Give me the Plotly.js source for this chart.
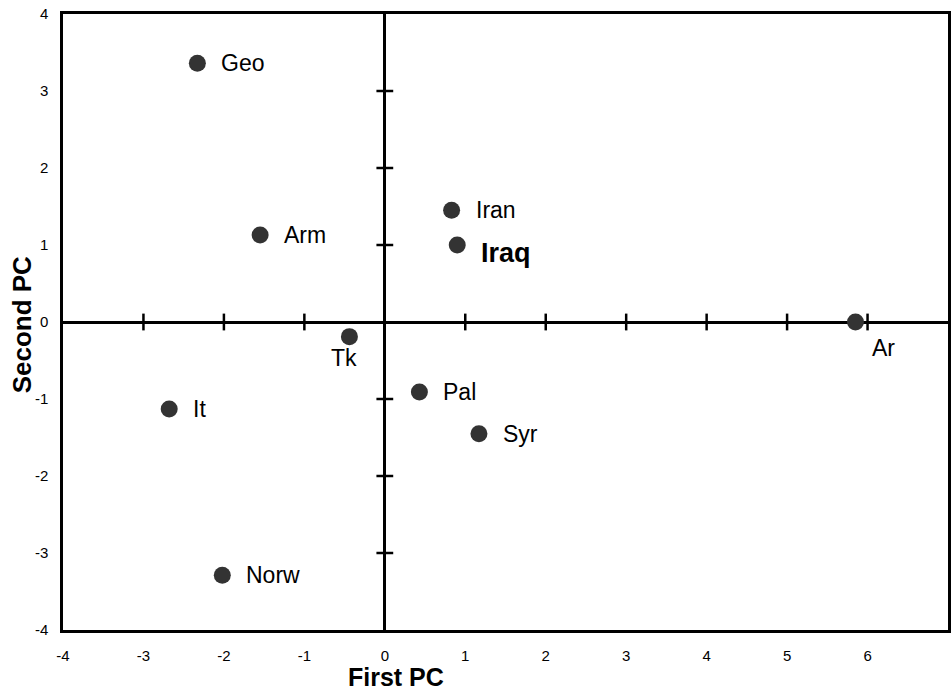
<!DOCTYPE html>
<html><head><meta charset="utf-8">
<script src="https://cdn.plot.ly/plotly-3.0.1.min.js"></script>
<style>html,body{margin:0;padding:0;background:#fff}</style>
</head><body><div id="chart" style="width:951px;height:690px"></div>
<script>
const labels = ["Geo","Arm","Tk","It","Norw","Iran","Iraq","Pal","Syr","Ar"];
const firstPC = [-2.33,-1.55,-0.44,-2.68,-2.02,0.83,0.90,0.43,1.17,5.85];
const secondPC = [3.36,1.13,-0.19,-1.13,-3.29,1.45,1.00,-0.91,-1.45,0.0];
const xTicks = [-4,-3,-2,-1,0,1,2,3,4,5,6,7];
const yTicks = [-4,-3,-2,-1,0,1,2,3,4];
const xTickMarks = [-3,-2,-1,1,2,3,4,5,6];
const yTickMarks = [-3,-2,-1,1,2,3];

const FONT = 'Liberation Sans, Arial, Helvetica, sans-serif';

const traces = [
  {x: xTickMarks, y: xTickMarks.map(()=>0), mode:'markers', hoverinfo:'skip',
   marker:{symbol:'line-ns-open', size:12, color:'#000', line:{color:'#000', width:2.5}}},
  {x: yTickMarks.map(()=>0), y: yTickMarks, mode:'markers', hoverinfo:'skip',
   marker:{symbol:'line-ew-open', size:12, color:'#000', line:{color:'#000', width:2.5}}},
  {x: firstPC, y: secondPC, mode:'markers', cliponaxis:false,
   marker:{size:17, color:'#333333'}}
];

// label placement style per label name
function labelStyle(name){
  if (name === 'Tk') return {xanchor:'center', yanchor:'middle', xshift:-5, yshift:-21};
  if (name === 'Ar') return {xanchor:'left', yanchor:'middle', xshift:15, yshift:-26};
  if (name === 'Iraq') return {xanchor:'left', yanchor:'middle', xshift:22, yshift:-8};
  return {xanchor:'left', yanchor:'middle', xshift:22, yshift:0};
}

const annotations = labels.map((name,i)=>Object.assign({
  x: firstPC[i], y: secondPC[i], xref:'x', yref:'y', showarrow:false,
  text: name === 'Iraq' ? '<b>'+name+'</b>' : name,
  font:{family:FONT, size: name === 'Iraq' ? 27 : 23, color:'#000'}
}, labelStyle(name)));

annotations.push({text:'<b>First PC</b>', xref:'paper', yref:'paper', x:0.376, y:-0.077,
  xanchor:'center', yanchor:'middle', showarrow:false, borderpad:0, font:{family:FONT, size:25, color:'#000'}});
annotations.push({text:'<b>Second PC</b>', xref:'paper', yref:'paper', x:-0.046, y:0.495,
  xanchor:'center', yanchor:'middle', textangle:-90, showarrow:false, font:{family:FONT, size:26, color:'#000'}});

const layout = {
  width:951, height:690,
  margin:{l:63, r:3, t:14, b:60},
  showlegend:false,
  paper_bgcolor:'#fff', plot_bgcolor:'#fff',
  font:{family:FONT, color:'#000'},
  annotations: annotations,
  xaxis:{range:[-4,7], tickvals:xTicks, ticktext:xTicks.map(String), showgrid:false,
    zeroline:true, zerolinecolor:'#000', zerolinewidth:2.5,
    showline:true, mirror:true, linecolor:'#000', linewidth:2.5,
    ticks:'', ticklabelstandoff:10, tickfont:{family:FONT, size:15, color:'#000'}},
  yaxis:{range:[-4,4], tickvals:yTicks, ticktext:yTicks.map(String), showgrid:false,
    zeroline:true, zerolinecolor:'#000', zerolinewidth:2.5,
    showline:true, mirror:true, linecolor:'#000', linewidth:2.5,
    ticks:'', ticklabelstandoff:9, tickfont:{family:FONT, size:15, color:'#000'}}
};
Plotly.newPlot('chart', traces, layout, {displayModeBar:false});
</script></body></html>
